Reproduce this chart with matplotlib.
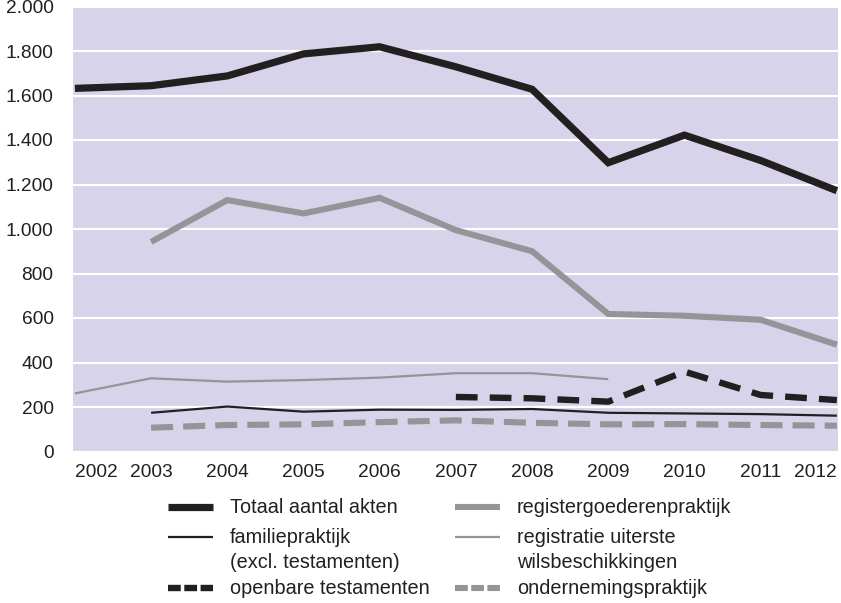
import numpy as np
import matplotlib
matplotlib.use("Agg")
import matplotlib.pyplot as plt
from matplotlib.lines import Line2D
from matplotlib.ticker import FuncFormatter

# Aantal akten per jaar, per praktijkgebied
years = [2002, 2003, 2004, 2005, 2006, 2007, 2008, 2009, 2010, 2011, 2012]
totaal = [1632, 1644, 1688, 1787, 1819, 1729, 1628, 1298, 1422, 1308, 1172]
registergoederen = [None, 942, 1130, 1070, 1140, 995, 900, 618, 610, 592, 480]
uiterste_wils = [261, 329, 314, 321, 332, 352, 352, 325, None, None, None]
familie = [None, 174, 202, 179, 188, 187, 191, 174, 171, 168, 161]
openbare_test = [None, None, None, None, None, 245, 239, 224, 359, 254, 231]
onderneming = [None, 107, 119, 122, 132, 140, 129, 122, 123, 119, 116]

labels = ["Totaal aantal akten", "familiepraktijk\n(excl. testamenten)",
          "openbare testamenten", "registergoederenpraktijk",
          "registratie uiterste\nwilsbeschikkingen", "ondernemingspraktijk"]

BLACK = "#231f20"
GREY = "#939598"
BG = "#d6d3ea"


def arr(values):
    return np.array([np.nan if v is None else v for v in values], dtype=float)


plt.rcParams["font.family"] = ["Liberation Sans", "DejaVu Sans"]

fig = plt.figure(figsize=(8.41, 6.03), dpi=100)
ax = fig.add_axes([73 / 841, 1 - 451.5 / 603, 765 / 841, 445 / 603])
ax.set_facecolor(BG)

ax.plot(years, arr(uiterste_wils), color=GREY, lw=1.6, solid_capstyle="butt")
ax.plot(years, arr(familie), color=BLACK, lw=1.6, solid_capstyle="butt")
ax.plot(years, arr(onderneming), color=GREY, lw=4.4, dashes=(3.6, 1.65),
        dash_capstyle="butt")
ax.plot(years, arr(openbare_test), color=BLACK, lw=4.6, dashes=(3.4, 1.9),
        dash_capstyle="butt")
ax.plot(years, arr(registergoederen), color=GREY, lw=4.4,
        solid_capstyle="butt", solid_joinstyle="miter")
ax.plot(years, arr(totaal), color=BLACK, lw=5.2,
        solid_capstyle="butt", solid_joinstyle="miter")

ax.set_xlim(2001.975, 2012.015)
ax.set_ylim(0, 2000)
ax.set_yticks(range(0, 2001, 200))
ax.yaxis.set_major_formatter(FuncFormatter(lambda v, p: f"{int(v):,}".replace(",", ".")))
ax.set_xticks(years)
ax.set_xticklabels([str(y) for y in years])
ax.grid(axis="y", color="white", lw=1.6)
ax.set_axisbelow(True)
for s in ax.spines.values():
    s.set_visible(False)
ax.tick_params(axis="y", length=0, pad=14, labelsize=13.8, labelcolor=BLACK)
ax.tick_params(axis="x", length=0, pad=9, labelsize=13.8, labelcolor=BLACK)
xl = ax.get_xticklabels()
xl[0].set_ha("left")
xl[-1].set_ha("right")

# Legenda onder de grafiek, twee kolommen
H = 603.0
handles = [
    dict(color=BLACK, lw=5.2),
    dict(color=BLACK, lw=1.6),
    dict(color=BLACK, lw=4.6, dashes=(2.0, 0.55)),
    dict(color=GREY, lw=4.4),
    dict(color=GREY, lw=1.6),
    dict(color=GREY, lw=4.4, dashes=(2.1, 0.55)),
]
rows_y = [507, 537, 588]
cols = [(168, 213, 230), (455, 500, 517)]
for i, (lab, hs) in enumerate(zip(labels, handles)):
    x0, x1, xt = cols[i // 3]
    y = rows_y[i % 3]
    ln = Line2D([x0 / 841, x1 / 841], [1 - y / H, 1 - y / H],
                transform=fig.transFigure, solid_capstyle="butt",
                dash_capstyle="butt", **hs)
    fig.add_artist(ln)
    fig.text(xt / 841, 1 - (y - 9) / H, lab, fontsize=14.3, color=BLACK,
             ha="left", va="top", linespacing=1.38)

fig.savefig("out.png", dpi=100)
